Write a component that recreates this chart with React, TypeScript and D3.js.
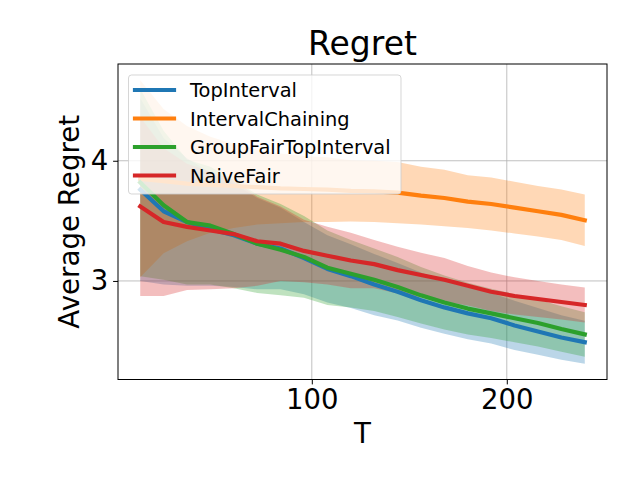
import React, { useEffect, useRef } from "react";
import * as d3 from "d3";

// horizon values
const T = [12, 24, 36, 48, 60, 72, 84, 96, 108, 120, 132, 144, 156, 168, 180, 192, 204, 216, 228, 240];

const seriesNames = ["TopInterval", "IntervalChaining", "GroupFairTopInterval", "NaiveFair"];
const seriesColors = ["#1f77b4", "#ff7f0e", "#2ca02c", "#d62728"];

// mean regret and spread (band half-width) per series
const topIntervalMean = [3.76, 3.58, 3.49, 3.43, 3.38, 3.31, 3.27, 3.19, 3.1, 3.04, 2.97, 2.91, 2.84, 2.78, 2.73, 2.69, 2.63, 2.58, 2.53, 2.49];
const topIntervalStd = [0.76, 0.61, 0.53, 0.47, 0.43, 0.38, 0.34, 0.3, 0.28, 0.265, 0.255, 0.24, 0.23, 0.22, 0.215, 0.21, 0.205, 0.195, 0.185, 0.178];

const chainingMean = [3.85, 3.83, 3.81, 3.8, 3.79, 3.78, 3.77, 3.765, 3.76, 3.75, 3.745, 3.735, 3.71, 3.69, 3.66, 3.64, 3.61, 3.58, 3.55, 3.505];
const chainingStd = [0.82, 0.6, 0.48, 0.4, 0.35, 0.31, 0.29, 0.275, 0.27, 0.255, 0.255, 0.255, 0.24, 0.235, 0.22, 0.22, 0.215, 0.21, 0.21, 0.215];

const groupFairMean = [3.82, 3.63, 3.49, 3.46, 3.39, 3.31, 3.26, 3.2, 3.11, 3.06, 3.01, 2.95, 2.88, 2.82, 2.77, 2.73, 2.69, 2.65, 2.6, 2.555];
const groupFairStd = [0.78, 0.62, 0.52, 0.49, 0.45, 0.41, 0.38, 0.34, 0.31, 0.28, 0.26, 0.25, 0.235, 0.225, 0.215, 0.205, 0.2, 0.195, 0.19, 0.185];

const naiveFairMean = [3.62, 3.49, 3.45, 3.42, 3.39, 3.33, 3.31, 3.25, 3.21, 3.17, 3.14, 3.09, 3.05, 3.01, 2.96, 2.91, 2.875, 2.85, 2.825, 2.8];
const naiveFairStd = [0.745, 0.615, 0.525, 0.49, 0.45, 0.37, 0.31, 0.26, 0.24, 0.23, 0.2, 0.195, 0.185, 0.18, 0.165, 0.16, 0.155, 0.15, 0.145, 0.145];

const xTicks = [100, 200];
const yTicks = [3, 4];

const FONT = "DejaVu Sans";

const App: React.FC = () => {
  const svgRef = useRef(null);

  const margin = { top: 64, right: 33, bottom: 100.5, left: 118 };
  const width = 640;
  const height = 480;
  const plotW = width - margin.left - margin.right;
  const plotH = height - margin.top - margin.bottom;

  useEffect(() => {
    if (svgRef.current === null) return;
    const svg = d3.select(svgRef.current);
    svg.selectAll("*").remove();

    const x = d3.scaleLinear().domain([0.6, 251.4]).range([0, plotW]);
    const y = d3.scaleLinear().domain([2.18, 4.805]).range([plotH, 0]);

    const g = svg.append("g").attr("transform", `translate(${margin.left}, ${margin.top})`);

    // grid
    g.selectAll(".gx")
      .data(xTicks)
      .enter()
      .append("line")
      .attr("x1", d => x(d))
      .attr("x2", d => x(d))
      .attr("y1", 0)
      .attr("y2", plotH)
      .attr("stroke", "#b0b0b0")
      .attr("stroke-width", 0.8);
    g.selectAll(".gy")
      .data(yTicks)
      .enter()
      .append("line")
      .attr("x1", 0)
      .attr("x2", plotW)
      .attr("y1", d => y(d))
      .attr("y2", d => y(d))
      .attr("stroke", "#b0b0b0")
      .attr("stroke-width", 0.8);

    const means = [topIntervalMean, chainingMean, groupFairMean, naiveFairMean];
    const stds = [topIntervalStd, chainingStd, groupFairStd, naiveFairStd];

    // bands
    means.forEach((m, s) => {
      const area = d3
        .area<number>()
        .x((_, i) => x(T[i]))
        .y0((d, i) => y(d - stds[s][i]))
        .y1((d, i) => y(d + stds[s][i]));
      g.append("path")
        .datum(m)
        .attr("d", area)
        .attr("fill", seriesColors[s])
        .attr("fill-opacity", 0.3)
        .attr("stroke", "none");
    });

    // lines
    means.forEach((m, s) => {
      const line = d3
        .line<number>()
        .x((_, i) => x(T[i]))
        .y(d => y(d));
      g.append("path")
        .datum(m)
        .attr("d", line)
        .attr("fill", "none")
        .attr("stroke", seriesColors[s])
        .attr("stroke-width", 4.2)
        .attr("stroke-linecap", "square")
        .attr("stroke-linejoin", "round");
    });

    // axes
    const xAxis = d3
      .axisBottom(x)
      .tickValues(xTicks)
      .tickFormat(d3.format("d"))
      .tickSize(4.9)
      .tickSizeOuter(0)
      .tickPadding(4.9);
    const yAxis = d3
      .axisLeft(y)
      .tickValues(yTicks)
      .tickFormat(d3.format("d"))
      .tickSize(4.9)
      .tickSizeOuter(0)
      .tickPadding(4.9);

    const xg = g.append("g").attr("transform", `translate(0, ${plotH})`).call(xAxis as any);
    const yg = g.append("g").call(yAxis as any);
    [xg, yg].forEach(a => {
      a.select(".domain").remove();
      a.selectAll("line").attr("stroke", "#000").attr("stroke-width", 1);
      a.selectAll("text")
        .attr("fill", "#000")
        .style("font-family", FONT)
        .style("font-size", "27.5px");
    });

    // frame
    g.append("rect")
      .attr("x", 0)
      .attr("y", 0)
      .attr("width", plotW)
      .attr("height", plotH)
      .attr("fill", "none")
      .attr("stroke", "#000")
      .attr("stroke-width", 1);

    // legend
    const lg = svg.append("g");
    lg.append("rect")
      .attr("x", 128.5)
      .attr("y", 75)
      .attr("width", 272.5)
      .attr("height", 119)
      .attr("rx", 3)
      .attr("fill", "#fff")
      .attr("fill-opacity", 0.8)
      .attr("stroke", "#cccccc")
      .attr("stroke-opacity", 0.8)
      .attr("stroke-width", 1);
    seriesNames.forEach((name, s) => {
      const ry = 90 + s * 28.5;
      lg.append("line")
        .attr("x1", 135)
        .attr("x2", 174)
        .attr("y1", ry)
        .attr("y2", ry)
        .attr("stroke", seriesColors[s])
        .attr("stroke-width", 4.2)
        .attr("stroke-linecap", "square");
      lg.append("text")
        .attr("x", 190)
        .attr("y", ry + 7)
        .attr("fill", "#000")
        .style("font-family", FONT)
        .style("font-size", "19.4px")
        .text(name);
    });

    // title and labels
    svg.append("text")
      .attr("x", margin.left + plotW / 2)
      .attr("y", 55)
      .attr("text-anchor", "middle")
      .style("font-family", FONT)
      .style("font-size", "33px")
      .text("Regret");
    svg.append("text")
      .attr("x", margin.left + plotW / 2)
      .attr("y", 443)
      .attr("text-anchor", "middle")
      .style("font-family", FONT)
      .style("font-size", "27.7px")
      .text("T");
    svg.append("text")
      .attr("transform", `translate(79, ${margin.top + plotH / 2}) rotate(-90)`)
      .attr("text-anchor", "middle")
      .style("font-family", FONT)
      .style("font-size", "27.7px")
      .text("Average Regret");
  }, [svgRef]);

  return (
    <svg
      ref={svgRef}
      width={width}
      height={height}
      viewBox={`0 0 ${width} ${height}`}
      style={{ position: "absolute", left: 0, top: 0, background: "#fff" }}
    />
  );
};

export default App;
